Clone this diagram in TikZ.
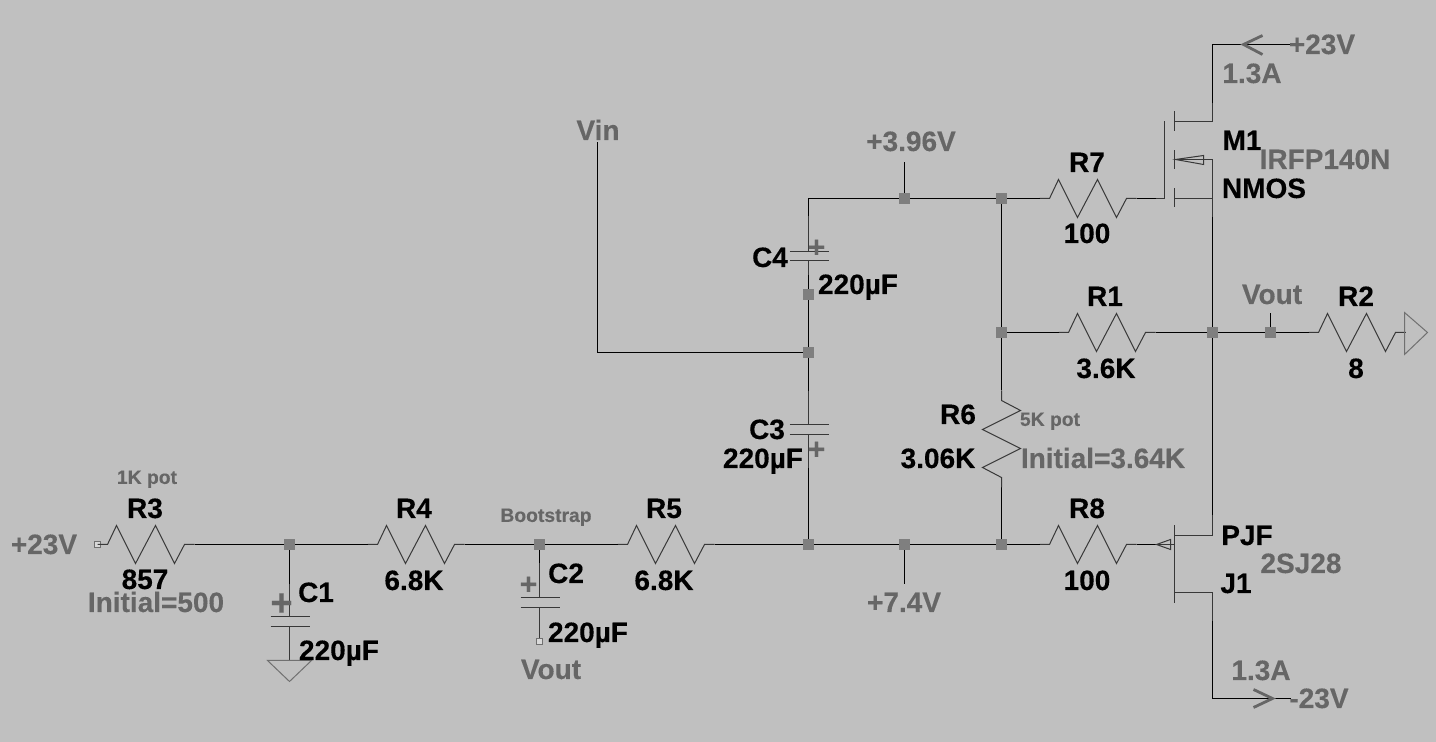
\documentclass[tikz,border=0pt]{standalone}
\usepackage{fontspec}
\setmainfont{Liberation Sans}[BoldFeatures={FakeBold=0.25}]
\definecolor{bgc}{HTML}{C0C0C0}
\definecolor{gtxt}{HTML}{666666}
\definecolor{comp}{HTML}{383838}
\definecolor{jun}{HTML}{7F7F7F}
\definecolor{gnd}{HTML}{707070}
\tikzset{
  wire/.style={draw=black,line width=0.58pt},
  part/.style={draw=comp,line width=0.5pt},
  lead/.style={draw=comp,line width=0.55pt},
  ground/.style={draw=gnd,line width=0.5pt},
  junct/.style={rectangle,fill=jun,inner sep=0pt,minimum size=5.5pt},
  term/.style={rectangle,draw=gnd,fill=bgc!60!white,line width=0.5pt,inner sep=0pt,minimum size=3.4pt},
  lab/.style={inner sep=0pt,font=\fontsize{14}{14}\selectfont\bfseries,text=black,text height=10pt,text depth=0pt,anchor=center,xshift=-0.25pt,yshift=0.25pt},
  val/.style={lab,text=gtxt},
  small/.style={inner sep=0pt,font=\fontsize{9.65}{10}\selectfont\bfseries,text=gtxt,text height=6.9pt,text depth=0pt,anchor=center,xshift=-0.25pt,yshift=0.25pt},
  plus/.style={inner sep=0pt,font=\fontsize{15}{15}\selectfont\bfseries,text=gtxt,anchor=center},
  plusbig/.style={plus,font=\fontsize{19}{19}\selectfont\bfseries},
  curarrow/.style={draw=gtxt,line width=1.4pt},
  hres/.pic={
    \draw[part] (-10,0) -- (0,0) -- (9,-19) -- (28,19) -- (48,-19) -- (67,19) -- (77,0) -- (87,0);
    \coordinate (-a) at (-10,0);
    \coordinate (-b) at (87,0);
  }
}
\begin{document}
\begin{tikzpicture}[x=0.5pt,y=-0.5pt]
\fill[bgc] (0,0) rectangle (1436,742);
\useasboundingbox (0,0) rectangle (1436,742);
\begin{scope}[shift={(0.5,0.5)}]

% junctions
\node[junct] (j1) at (289,544) {};
\node[junct] (j2) at (539,544) {};
\node[junct] (j3) at (808,544) {};
\node[junct] (j4) at (904,544) {};
\node[junct] (j5) at (1001,544) {};
\node[junct] (j6) at (808,352) {};
\node[junct] (j7) at (808,294) {};
\node[junct] (j8) at (904,198) {};
\node[junct] (j9) at (1001,198) {};
\node[junct] (j10) at (1001,332) {};
\node[junct] (j11) at (1212,332) {};
\node[junct] (j12) at (1270,332) {};
\node[term] (t1) at (97,544) {};
\node[term] (t2) at (539,641) {};

% resistors
\pic (r3) at (107,544) {hres};
\pic (r4) at (377,544) {hres};
\pic (r5) at (627,544) {hres};
\pic (r8) at (1049,544) {hres};
\pic (r7) at (1049,198) {hres};
\pic (r1) at (1068,332) {hres};
\pic (r2) at (1318,332) {hres};

% free ends and corners
\coordinate (vinend) at (597,142);
\coordinate (vincorner) at (597,352);
\coordinate (c4corner) at (808,198);
\coordinate (p396) at (904,162);
\coordinate (p74) at (904,584);
\coordinate (pvout) at (1270,313);
\coordinate (r2end) at (1404,332);
\coordinate (c1top) at (289,584);
\coordinate (c2top) at (539,563);
\coordinate (c4low) at (808,275);
\coordinate (c4high) at (808,216);
\coordinate (c3high) at (808,391);
\coordinate (c3low) at (808,468);
\coordinate (r6a) at (1001,390);
\coordinate (r6b) at (1001,487);
\coordinate (mg) at (1155,198);
\coordinate (jg) at (1156,544);
\coordinate (md1) at (1212,103);
\coordinate (md2) at (1212,44);
\coordinate (md3) at (1290,44);
\coordinate (ms1) at (1212,217);
\coordinate (jd1) at (1212,515);
\coordinate (js1) at (1212,621);
\coordinate (js2) at (1212,698);
\coordinate (js3) at (1290,698);

% wires
\draw[wire] (r3-b) -- (j1);
\draw[wire] (j1) -- (r4-a);
\draw[wire] (r4-b) -- (j2);
\draw[wire] (j2) -- (r5-a);
\draw[wire] (r5-b) -- (j3);
\draw[wire] (j3) -- (j4);
\draw[wire] (j4) -- (j5);
\draw[wire] (j5) -- (r8-a);
\draw[wire] (r8-b) -- (jg);
\draw[wire] (j1) -- (c1top);
\draw[wire] (j2) -- (c2top);
\draw[wire] (j3) -- (c3low);
\draw[wire] (j7) -- (c4low);
\draw[wire] (j7) -- (j6);
\draw[wire] (j6) -- (c3high);
\draw[wire] (j6) -- (vincorner) -- (vinend);
\draw[wire] (c4high) -- (c4corner) -- (j8);
\draw[wire] (j8) -- (j9);
\draw[wire] (j9) -- (r7-a);
\draw[wire] (r7-b) -- (mg);
\draw[wire] (j8) -- (p396);
\draw[wire] (j4) -- (p74);
\draw[wire] (j9) -- (j10);
\draw[wire] (j10) -- (r6a);
\draw[wire] (r6b) -- (j5);
\draw[wire] (j10) -- (r1-a);
\draw[wire] (r1-b) -- (j11);
\draw[wire] (j11) -- (j12);
\draw[wire] (j12) -- (r2-a);
\draw[wire] (j12) -- (pvout);
\draw[wire] (ms1) -- (j11);
\draw[wire] (j11) -- (jd1);
\draw[wire] (md1) -- (md2) -- (md3);
\draw[wire] (js1) -- (js2) -- (js3);

% R2 tail and ground
\draw[part] (r2-b) -- (r2end);
\draw[ground] (1404,312) -- (1404,354) -- (1427,332) -- cycle;

% R6
\draw[part] (r6a) -- (1001,400) -- (1020,410) -- (982,429) -- (1020,448) -- (982,467) -- (1001,477) -- (r6b);

% C1
\draw[lead] (c1top) -- (289,616);
\draw[part] (270,616) -- (309,616);
\draw[part] (270,626) -- (309,626);
\draw[lead] (289,626) -- (289,660);
\draw[ground] (267,660) -- (311,660) -- (289,681) -- cycle;
% C2
\draw[lead] (c2top) -- (539,597);
\draw[part] (520,597) -- (559,597);
\draw[part] (520,607) -- (559,607);
\draw[lead] (539,607) -- (t2);
% C4
\draw[lead] (c4high) -- (808,251);
\draw[part] (789,251) -- (828,251);
\draw[part] (789,260) -- (828,260);
\draw[lead] (808,260) -- (c4low);
% C3
\draw[lead] (c3high) -- (808,424);
\draw[part] (789,424) -- (828,424);
\draw[part] (789,434) -- (828,434);
\draw[lead] (808,434) -- (c3low);
% R3 terminal
\draw[part] (t1) -- (r3-a);

% M1
\draw[part] (mg) -- (1164,198) -- (1164,121);
\draw[part] (1174,111) -- (1174,131);
\draw[part] (1174,150) -- (1174,169);
\draw[part] (1174,188) -- (1174,207);
\draw[part] (1174,121) -- (1212,121) -- (md1);
\draw[part] (1174,198) -- (1212,198);
\draw[part] (1212,159) -- (ms1);
\draw[part] (1212,159) -- (1203,159);
\draw[part] (1175,159) -- (1203,155) -- (1203,164) -- cycle;
\draw[part] (1175,159) -- (1203,159);

% J1
\draw[part] (1174,525) -- (1174,603);
\draw[part] (1174,535) -- (1212,535) -- (jd1);
\draw[part] (1174,592) -- (1212,592) -- (js1);
\draw[part] (1156,544) -- (1170,539) -- (1170,549) -- cycle;
\draw[part] (1156,544) -- (1174,544);

% current arrows
\draw[curarrow] (1262,35) -- (1243,44) -- (1262,54);
\draw[curarrow] (1253,689) -- (1272,698) -- (1253,707);

% labels
\node[val] (lp23a) at (44,544) {+23V};
\node[small] (l1k) at (147,477) {1K pot};
\node[lab] (lr3) at (145,508) {R3};
\node[lab] (lr3v) at (145,579) {857};
\node[val] (lr3i) at (156,602) {Initial=500};
\node[plusbig] (lc1p) at (281,604) {+};
\node[lab] (lc1) at (316,592) {C1};
\node[lab] (lc1v) at (339,650) {220µF};
\node[lab] (lr4) at (414,508) {R4};
\node[lab] (lr4v) at (414,580) {6.8K};
\node[small] (lboot) at (546,515) {Bootstrap};
\node[plus] (lc2p) at (528,585) {+};
\node[lab] (lc2) at (566,573) {C2};
\node[lab] (lc2v) at (588,632) {220µF};
\node[val] (lvo2) at (551,669) {Vout};
\node[lab] (lr5) at (664,508) {R5};
\node[lab] (lr5v) at (664,580) {6.8K};
\node[val] (lvin) at (598,130) {Vin};
\node[lab] (lc4) at (770,257) {C4};
\node[plus] (lc4p) at (816,248) {+};
\node[lab] (lc4v) at (858,284) {220µF};
\node[lab] (lc3) at (767,429) {C3};
\node[plus] (lc3p) at (816,450) {+};
\node[lab] (lc3v) at (763,458) {220µF};
\node[val] (l396) at (911,141) {+3.96V};
\node[val] (l74) at (904,602) {+7.4V};
\node[lab] (lr6) at (958,414) {R6};
\node[lab] (lr6v) at (938,458) {3.06K};
\node[small] (l5k) at (1050,419) {5K pot};
\node[val] (lr6i) at (1103,458) {Initial=3.64K};
\node[lab] (lr7) at (1087,162) {R7};
\node[lab] (lr7v) at (1087,233) {100};
\node[lab] (lr1) at (1105,296) {R1};
\node[lab] (lr1v) at (1106,368) {3.6K};
\node[lab] (lr8) at (1087,508) {R8};
\node[lab] (lr8v) at (1087,580) {100};
\node[lab] (lm1) at (1242,140) {M1};
\node[val] (lm1v) at (1325,159) {IRFP140N};
\node[lab] (lnmos) at (1264,188) {NMOS};
\node[val] (la1) at (1252,73) {1.3A};
\node[val] (lp23b) at (1322,44) {+23V};
\node[val] (lvo1) at (1272,294) {Vout};
\node[lab] (lr2) at (1356,296) {R2};
\node[lab] (lr2v) at (1356,368) {8};
\node[lab] (lpjf) at (1247,535) {PJF};
\node[val] (lj1v) at (1301,563) {2SJ28};
\node[lab] (lj1) at (1236,583) {J1};
\node[val] (la2) at (1261,670) {1.3A};
\node[val] (lm23) at (1319,698) {-23V};
\end{scope}
\end{tikzpicture}
\end{document}
